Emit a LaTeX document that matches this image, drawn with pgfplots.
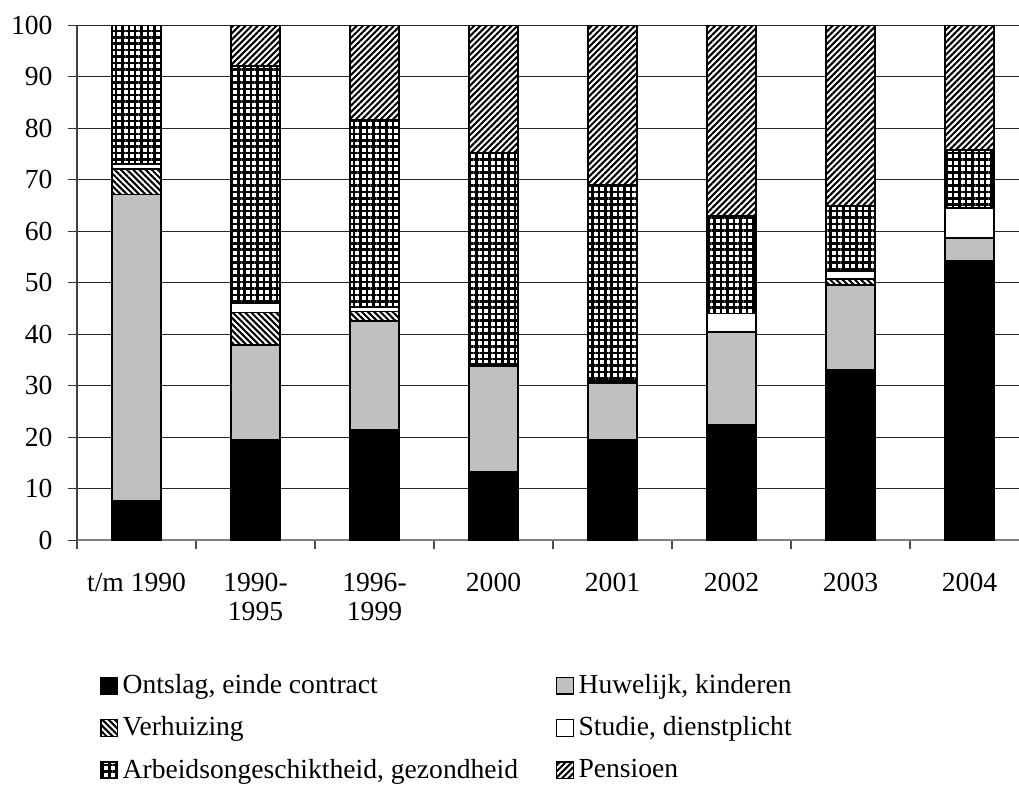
\documentclass[border=0pt]{standalone}
\usepackage{fontspec}
\setmainfont{Liberation Serif}
\usepackage{pgfplots}
\pgfplotsset{compat=1.18}
\usetikzlibrary{patterns.meta}
\definecolor{barsilver}{RGB}{192,192,192}

\begin{document}
\fontsize{12}{12.6}\selectfont
\begin{tikzpicture}
\begin{axis}[
scale only axis,width=409.6pt,height=224pt,
ybar stacked,bar width=0.41,
xmin=-0.5,xmax=7.416,ymin=0,ymax=100,
axis x line*=bottom,axis y line*=left,
x axis line style={gray,line width=0.7pt,-},
y axis line style={black!75,line width=0.6pt,-},
xtick={0,1,2,3,4,5,6,7},
xticklabels={t/m 1990,{1990-\\1995},{1996-\\1999},2000,2001,2002,2003,2004},
xticklabel style={align=center,yshift=-6.3pt},
minor xtick={-0.5,0.5,1.5,2.5,3.5,4.5,5.5,6.5},
major x tick style={draw=none},
minor x tick style={black!70,line width=0.5pt},
ytick={0,10,...,100},
yticklabel style={xshift=-2.5pt},
tick align=outside,major tick length=4pt,minor tick length=4pt,
y tick style={black!80,line width=0.5pt},
ymajorgrids,grid style={black!85,line width=0.45pt},
/pgf/number format/assume math mode=true,
every axis plot/.append style={draw=black,line width=0.8pt},
legend columns=2,legend cell align=left,
legend image code/.code={\draw[#1,line width=0.6pt] (0pt,-3.4pt) rectangle (7.2pt,3.8pt);},
legend style={draw=none,fill=none,at={(0.0167,-0.249)},anchor=north west,
  row sep=7.2pt,column sep=1.5pt,/tikz/column 2/.style={column sep=16pt},
  nodes={inner sep=0.5pt}},
]
\addplot[fill=black] coordinates {(0,7.7)(1,19.4)(2,21.5)(3,13.3)(4,19.4)(5,22.4)(6,33.1)(7,54.2)};
\addlegendentry{Ontslag, einde contract}
\addplot[fill=barsilver] coordinates {(0,59.4)(1,18.5)(2,21.1)(3,20.6)(4,11.2)(5,18.0)(6,16.4)(7,4.4)};
\addlegendentry{Huwelijk, kinderen}
\addplot[fill=white,postaction={pattern={Lines[angle=-45,distance=1.9pt,line width=0.9pt]},pattern color=black}] coordinates {(0,4.9)(1,6.3)(2,1.8)(3,0)(4,0)(5,0)(6,1.2)(7,0)};
\addlegendentry{Verhuizing}
\addplot[fill=white] coordinates {(0,1.1)(1,1.8)(2,0.9)(3,0.3)(4,0.3)(5,3.6)(6,1.6)(7,5.9)};
\addlegendentry{Studie, dienstplicht}
\addplot[fill=white,postaction={pattern={Hatch[angle=0,distance=2.8pt,line width=1.1pt]},pattern color=black}] coordinates {(0,26.9)(1,46.0)(2,36.3)(3,40.9)(4,38.1)(5,18.9)(6,12.6)(7,11.2)};
\addlegendentry{Arbeidsongeschiktheid, gezondheid}
\addplot[fill=white,postaction={pattern={Lines[angle=45,distance=1.9pt,line width=0.9pt]},pattern color=black}] coordinates {(0,0)(1,8.0)(2,18.4)(3,24.9)(4,31.0)(5,37.1)(6,35.1)(7,24.3)};
\addlegendentry{Pensioen}
\end{axis}
\pgfresetboundingbox
\path ([shift={(-33.5pt,-106.1pt)}]current axis.south west) rectangle ([shift={(0pt,10.9pt)}]current axis.north east);
\end{tikzpicture}
\end{document}
